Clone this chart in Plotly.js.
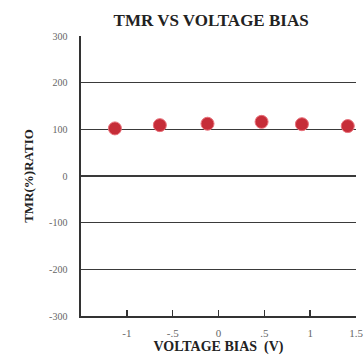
<!DOCTYPE html>
<html><head><meta charset="utf-8">
<script src="https://cdn.plot.ly/plotly-3.0.1.min.js"></script>
<style>html,body{margin:0;padding:0;background:#fff}#chart{width:364px;height:356px}</style>
</head><body><div id="chart"></div>
<script>
const voltageBias = [-1.13, -0.64, -0.12, 0.47, 0.91, 1.41];
const tmrRatio = [102, 109, 112, 116, 111, 107];
const xTickVals = [-1, -0.5, 0, 0.5, 1, 1.5];
const xTickText = ['-1', '-.5', '0', '.5', '1', '1.5'];
const yTickVals = [-300, -200, -100, 0, 100, 200, 300];
const yTickText = ['-300', '-200', '-100', '0', '100', '200', '300'];

const serif = 'Liberation Serif, Times New Roman, serif';
Plotly.newPlot('chart', [{
  x: voltageBias, y: tmrRatio, type: 'scatter', mode: 'markers',
  marker: {color: '#c62d38', size: 13, line: {color: '#e8707a', width: 1}},
  showlegend: false
}], {
  width: 364, height: 356,
  margin: {l: 81, r: 8, t: 36, b: 40},
  paper_bgcolor: '#fff', plot_bgcolor: '#fff',
  title: {text: '<b>TMR VS VOLTAGE BIAS</b>', font: {family: serif, size: 17, color: '#222'},
          x: 0.58, xanchor: 'center', y: 0.945, yanchor: 'middle'},
  xaxis: {range: [-1.5, 1.5], tickvals: xTickVals, ticktext: xTickText,
          showgrid: false, zeroline: false, showline: true, linecolor: '#333', linewidth: 1.6,
          ticks: 'inside', ticklen: 6, tickcolor: '#333', tickwidth: 1.6,
          tickfont: {family: serif, size: 11, color: '#666'}, ticklabelstandoff: 6,
          title: {text: '<b>VOLTAGE BIAS  (V)</b>', font: {family: serif, size: 14, color: '#222'}, standoff: 2}},
  yaxis: {range: [-300, 300], tickvals: yTickVals, ticktext: yTickText,
          showgrid: true, gridcolor: '#3a3a3a', gridwidth: 1.5, zeroline: false,
          showline: true, linecolor: '#333', linewidth: 1.6, ticks: '',
          tickfont: {family: serif, size: 10, color: '#666'}, ticklabelstandoff: 10,
          title: {text: '<b>TMR(%)RATIO</b>', font: {family: serif, size: 13, color: '#222'}, standoff: 12}}
}, {displayModeBar: false, staticPlot: true});
</script></body></html>
